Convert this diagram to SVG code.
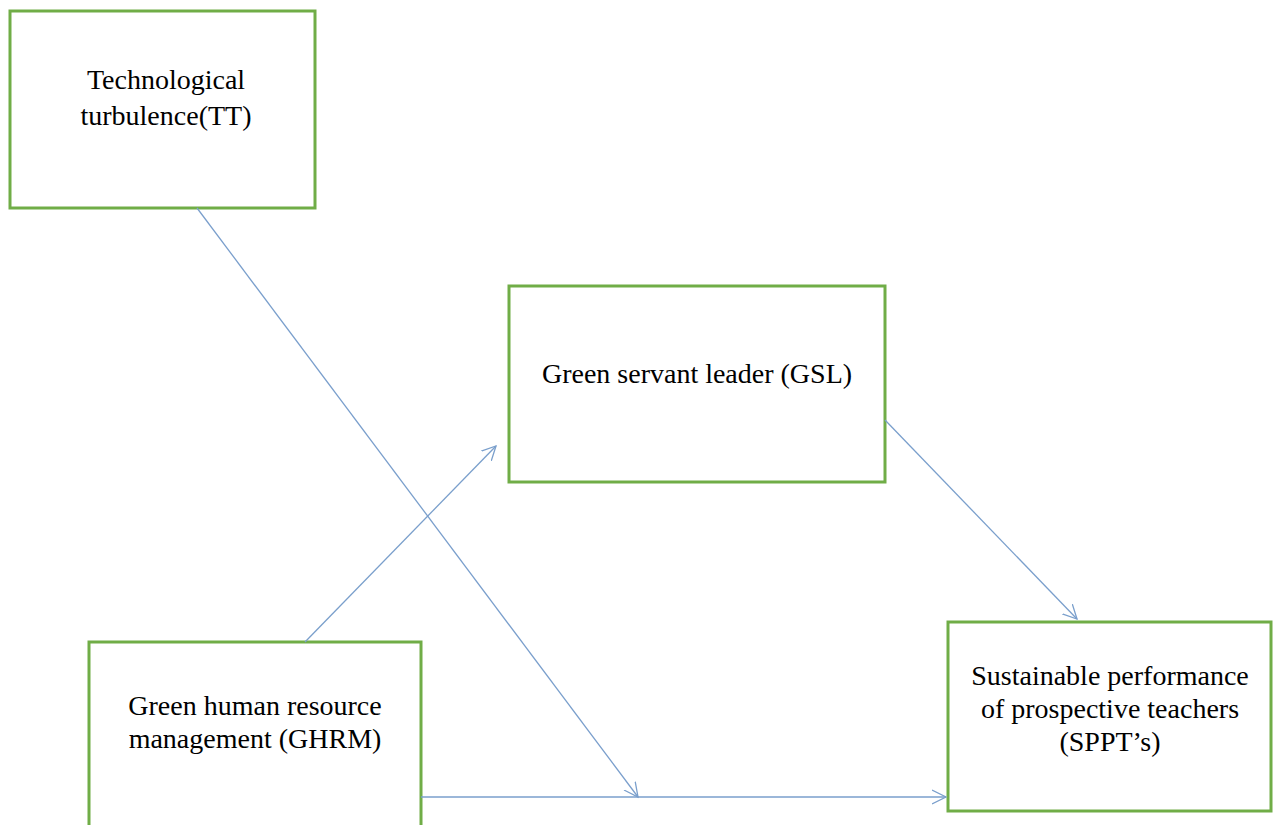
<svg xmlns="http://www.w3.org/2000/svg" width="1279" height="825" viewBox="0 0 1279 825">
<style>
.box{fill:#fff;stroke:#70ad47;stroke-width:3}
.t{font-family:"Liberation Serif",serif;font-size:28px;fill:#000;text-anchor:middle}
.c{stroke:#7a9fcc;stroke-width:1.3;fill:none;marker-end:url(#a)}
</style>
<defs>
<marker id="a" markerWidth="16" markerHeight="16" viewBox="-14 -8 16 16" refX="0" refY="0" orient="auto" markerUnits="userSpaceOnUse">
<path d="M-14,-7 L0,0 L-14,7" fill="none" stroke="#7a9fcc" stroke-width="1.3"/>
</marker>
</defs>
<rect width="1279" height="825" fill="#fff"/>
<g id="TT"><rect class="box" x="10" y="11" width="305" height="197"/>
<text class="t" x="166" y="89">Technological</text><text class="t" x="166" y="125">turbulence(TT)</text></g>
<g id="GSL"><rect class="box" x="509" y="286" width="376" height="196"/>
<text class="t" x="697" y="383">Green servant leader (GSL)</text></g>
<g id="GHRM"><rect class="box" x="89" y="642" width="332" height="190"/>
<text class="t" x="255" y="715">Green human resource</text><text class="t" x="255" y="748">management (GHRM)</text></g>
<g id="SPPT"><rect class="box" x="948" y="622" width="323" height="189"/>
<text class="t" x="1110" y="685">Sustainable performance</text><text class="t" x="1110" y="718">of prospective teachers</text><text class="t" x="1110" y="751">(SPPT’s)</text></g>
<g id="connectors">
<line class="c" x1="197" y1="208" x2="638" y2="797"/>
<line class="c" x1="305" y1="642" x2="496" y2="446"/>
<line class="c" x1="885" y1="420" x2="1077" y2="619"/>
<line class="c" x1="421" y1="797" x2="946" y2="797"/>
</g>
</svg>
